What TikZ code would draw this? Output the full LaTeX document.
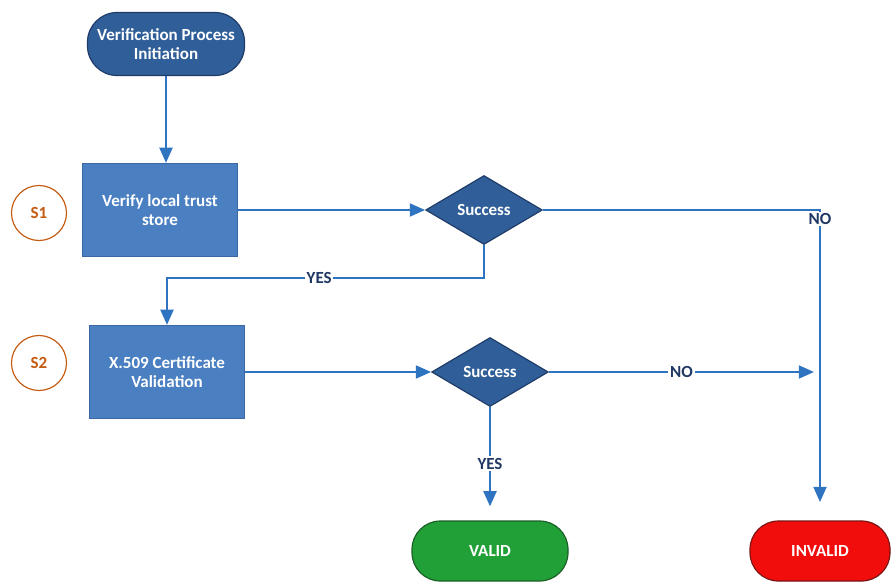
\documentclass[tikz,border=0pt]{standalone}
\usepackage{fontspec}
\setmainfont{Carlito}
\usepackage{xcolor}
\usepackage{tikz}
\usetikzlibrary{shapes,arrows.meta,positioning,calc}

\definecolor{boxblue}{HTML}{4A7FC1}
\definecolor{boxedge}{HTML}{3A68A6}
\definecolor{darkblue}{HTML}{2F5E98}
\definecolor{darkedge}{HTML}{1F3C68}
\definecolor{lineblue}{HTML}{2F74C0}
\definecolor{navy}{HTML}{1F3864}
\definecolor{stepcol}{HTML}{C55A11}
\definecolor{okgreen}{HTML}{22A038}
\definecolor{okedge}{HTML}{1B5E26}
\definecolor{badred}{HTML}{F20D0D}
\definecolor{badedge}{HTML}{7A1515}

\begin{document}
\begin{tikzpicture}[x=0.03cm, y=-0.03cm,
    font=\bfseries\fontsize{14.5}{16.5}\selectfont,
    term/.style={rectangle, rounded corners=0.89cm, draw=darkedge, fill=darkblue, text=white, line width=1pt,
        align=center, inner xsep=1pt, minimum width=4.71cm, minimum height=1.89cm},
    procbox/.style={rectangle, draw=boxedge, fill=boxblue, text=white, line width=1pt,
        align=center, minimum width=4.65cm, minimum height=2.79cm},
    decision/.style={diamond, draw=darkedge, fill=darkblue, text=white, line width=1pt,
        minimum width=3.5cm, minimum height=2.07cm, inner sep=0pt},
    stepmark/.style={circle, draw=stepcol, text=stepcol, line width=1pt, minimum size=1.65cm},
    flow/.style={draw=lineblue, line width=2pt, -{Triangle[length=13pt,width=11pt]}},
    lbl/.style={fill=white, text=navy, inner sep=1.5pt}]
    \useasboundingbox (0,0) rectangle (893,581);

    % start and the two steps
    \node[term] (init) at (166,44) {Verification Process\\Initiation};
    \node[procbox] (s1box) at (160,210) {Verify local trust\\store};
    \node[stepmark] (s1) at (39,213) {S1};
    \node[decision] (dec1) at (484,210) {Success};
    \node[procbox] (s2box) at (167,372) {X.509 Certificate\\Validation};
    \node[stepmark] (s2) at (39,363) {S2};
    \node[decision] (dec2) at (490,372) {Success};

    % results
    \node[term, draw=okedge, fill=okgreen, minimum width=4.68cm, minimum height=1.8cm, rounded corners=0.85cm] (valid) at (490,551) {VALID};
    \node[term, draw=badedge, fill=badred, minimum width=4.2cm, minimum height=1.8cm, rounded corners=0.85cm] (invalid) at (820,551) {INVALID};

    % connectors
    \coordinate (bend1) at (484,278);
    \draw[flow] (init.south) -- (init.south |- s1box.north);
    \draw[flow] (s1box.east) -- (dec1.west);
    \draw[flow] (dec1.south) -- (bend1) -| node[lbl, pos=0.26] {YES} (s2box.north);
    \draw[flow, shorten >=0.55cm] (dec1.east) -| node[lbl, pos=0.5, yshift=-0.27cm] {NO} (invalid.north);
    \draw[flow] (s2box.east) -- (dec2.west);
    \draw[flow] (dec2.east) -- node[lbl] {NO} ($(dec2.east -| invalid.north)+(-6,0)$);
    \draw[flow, shorten >=0.42cm] (dec2.south) -- node[lbl] {YES} (valid.north);
\end{tikzpicture}
\end{document}
